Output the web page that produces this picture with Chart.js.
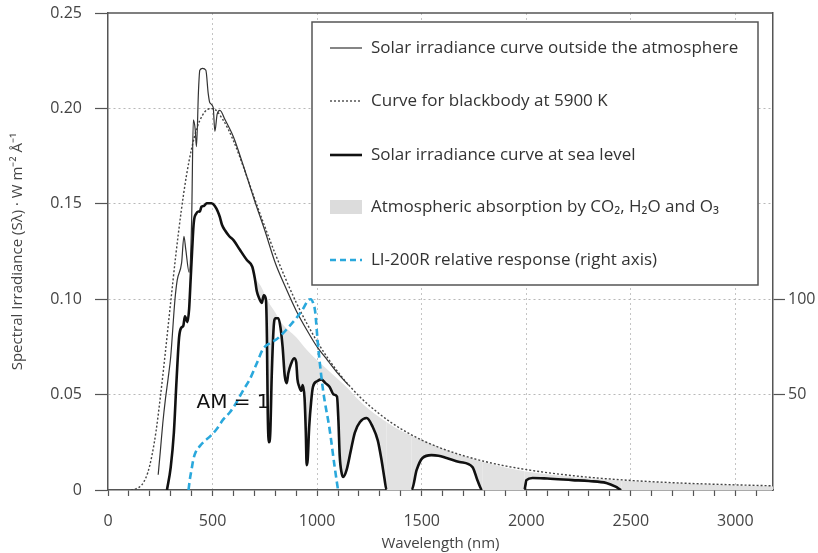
<!DOCTYPE html>
<html>
<head>
<meta charset="utf-8">
<script src="https://cdn.jsdelivr.net/npm/chart.js@4.4.1/dist/chart.umd.min.js"></script>
<style>
body { margin: 0; background: #fff; }
#wrap { width: 818px; height: 553px; }
</style>
</head>
<body>
<div id="wrap"><canvas id="chart" width="818" height="553"></canvas></div>
<script>
// all values: wavelength in nm, irradiance in W m-2 A-1, response in %

// blackbody at 5900 K (dotted)
var bbWave = [110, 130, 150, 170, 190, 210, 230, 250, 275, 300, 325, 350, 375, 400, 425, 450, 475, 500, 550, 600, 650, 700, 750, 800, 900, 1000, 1100, 1200, 1300, 1400, 1500, 1600, 1800, 2000, 2250, 2500, 2750, 3000, 3180];
var bbVal  = [0, 0.0005, 0.0015, 0.004, 0.009, 0.018, 0.031, 0.0484, 0.0729, 0.0987, 0.1238, 0.146, 0.1647, 0.179, 0.1896, 0.196, 0.1994, 0.1999, 0.194, 0.183, 0.1686, 0.153, 0.138, 0.1237, 0.0983, 0.0778, 0.0618, 0.0493, 0.0397, 0.0321, 0.0262, 0.0216, 0.015, 0.0107, 0.0072, 0.005, 0.0036, 0.0027, 0.0022];

// outside the atmosphere (thin line)
var etWave = [240, 250, 262, 275, 287, 300, 320, 331, 352, 363, 372, 388, 400, 408, 417, 423, 433, 439, 452, 468, 479, 487, 503, 511, 522, 535, 560, 600, 650, 700, 750, 800, 850, 900, 950, 1000, 1050, 1100, 1150];
var etVal  = [0.008, 0.02, 0.035, 0.048, 0.058, 0.07, 0.0996, 0.11, 0.119, 0.133, 0.126, 0.114, 0.1415, 0.194, 0.189, 0.18, 0.21, 0.22, 0.221, 0.22, 0.208, 0.203, 0.2005, 0.188, 0.197, 0.199, 0.194, 0.185, 0.169, 0.152, 0.136, 0.119, 0.106, 0.094, 0.084, 0.075, 0.068, 0.061, 0.055];

// sea level (thick line)
var slWave = [282, 300, 315, 328, 340, 350, 360, 368, 380, 388, 395, 402, 410, 423, 432, 439, 447, 460, 472, 495, 510, 525, 535, 545, 560, 580, 600, 630, 664, 690, 702, 712, 725, 735, 745, 755, 760, 764, 770, 776, 783, 792, 800, 815, 825, 835, 845, 855, 862, 875, 890, 900, 906, 915, 925, 931, 940, 946, 950, 955, 962, 972, 980, 1000, 1020, 1040, 1060, 1080, 1095, 1102, 1108, 1117, 1125, 1141, 1160, 1180, 1205, 1237, 1266, 1290, 1308, 1322, 1332, 1452, 1476, 1504, 1547, 1580, 1619, 1681, 1743, 1767, 1790, 1991, 2001, 2030, 2100, 2221, 2300, 2383, 2430, 2455, 3180];
var slVal  = [0, 0.012, 0.03, 0.058, 0.08, 0.085, 0.086, 0.091, 0.088, 0.095, 0.11, 0.125, 0.14, 0.145, 0.146, 0.1459, 0.1485, 0.149, 0.1503, 0.1503, 0.149, 0.146, 0.143, 0.139, 0.136, 0.133, 0.131, 0.126, 0.1205, 0.117, 0.111, 0.104, 0.1, 0.098, 0.102, 0.1, 0.08, 0.04, 0.025, 0.03, 0.06, 0.085, 0.09, 0.09, 0.085, 0.075, 0.06, 0.056, 0.061, 0.066, 0.069, 0.067, 0.058, 0.054, 0.052, 0.055, 0.048, 0.03, 0.013, 0.016, 0.033, 0.047, 0.054, 0.057, 0.058, 0.056, 0.054, 0.05, 0.049, 0.036, 0.018, 0.009, 0.0068, 0.0105, 0.02, 0.03, 0.0356, 0.0377, 0.033, 0.026, 0.0157, 0.006, 0, 0, 0.0105, 0.0168, 0.0183, 0.018, 0.0168, 0.0147, 0.012, 0.005, 0, 0, 0.0052, 0.0063, 0.006, 0.0052, 0.0047, 0.0037, 0.0016, 0, 0];

// top of the grey absorption area
var absWave = [702, 730, 760, 800, 830, 900, 950, 1000, 1050, 1100, 1150, 1200, 1250, 1300, 1400, 1500, 1600, 1700, 1800, 1900, 2000, 2200, 2400, 2600, 2800, 3000, 3180];
var absVal  = [0.111, 0.107, 0.1, 0.093, 0.0875, 0.08, 0.0735, 0.068, 0.063, 0.058, 0.053, 0.047, 0.042, 0.038, 0.031, 0.0262, 0.0218, 0.0178, 0.0145, 0.0118, 0.0097, 0.0071, 0.0054, 0.0041, 0.0032, 0.0024, 0.0019];

// LI-200R relative response, right axis
var liWave = [385, 392, 400, 408, 420, 439, 460, 487, 520, 551, 585, 615, 645, 678, 710, 742, 775, 806, 840, 869, 900, 933, 957, 970, 981, 990, 1005, 1028, 1060, 1084, 1100];
var liVal  = [0, 6, 11, 16, 20, 23, 25.5, 28, 32, 37, 41, 46, 52, 58, 66, 74, 77, 79, 82.5, 86, 90, 95, 99.5, 100, 98, 94, 75, 52.6, 31.6, 12, 0];

var xTicks = [0, 500, 1000, 1500, 2000, 2500, 3000];
var rightTicks = [50, 100];
var amLabel = {x: 423, y: 0.0429, text: "AM = 1"};

var legendLabels = [
	"Solar irradiance curve outside the atmosphere",
	"Curve for blackbody at 5900 K",
	"Solar irradiance curve at sea level",
	"Atmospheric absorption by CO\u2082, H\u2082O and O\u2083",
	"LI-200R relative response (right axis)"
];

var BLUE = "#2aa8dc";
var FONT = "'Open Sans', sans-serif";

function pts(xs, ys) {
	return xs.map((x, i) => ({x: x, y: ys[i]}));
}

// vertical scales: fixed width and no extra room above the plot
function fixWidth(w) {
	return s => { s.width = w; s.paddingTop = 0; s.paddingBottom = 0; };
}

// frame top, AM label and the boxed legend
var extras = {
	id: "extras",
	afterDatasetsDraw(chart) {
		var ctx = chart.ctx, a = chart.chartArea;
		var xs = chart.scales.x, ys = chart.scales.y;
		ctx.save();
		ctx.strokeStyle = "#555";
		ctx.lineWidth = 1.5;
		ctx.beginPath();
		ctx.moveTo(a.left, a.top);
		ctx.lineTo(a.right, a.top);
		ctx.stroke();

		ctx.fillStyle = "#111";
		ctx.font = "20px 'DejaVu Sans'";
		ctx.textBaseline = "alphabetic";
		ctx.fillText(amLabel.text, xs.getPixelForValue(amLabel.x), ys.getPixelForValue(amLabel.y));

		// legend box
		var bx = 312, by = 22, bw = 446, bh = 263;
		ctx.fillStyle = "#fff";
		ctx.fillRect(bx, by, bw, bh);
		ctx.strokeStyle = "#555";
		ctx.lineWidth = 1.5;
		ctx.strokeRect(bx, by, bw, bh);

		var rows = [48, 101, 155, 207, 260];
		var sx0 = 330, sx1 = 362;
		function seg(y, w, col, dash) {
			ctx.beginPath();
			ctx.setLineDash(dash);
			ctx.lineWidth = w;
			ctx.strokeStyle = col;
			ctx.moveTo(sx0, y);
			ctx.lineTo(sx1, y);
			ctx.stroke();
			ctx.setLineDash([]);
		}
		seg(rows[0], 1.2, "#333", []);
		seg(rows[1], 1.3, "#555", [2, 2]);
		seg(rows[2], 2.6, "#111", []);
		ctx.fillStyle = "#dcdcdc";
		ctx.fillRect(sx0, rows[3] - 7, sx1 - sx0, 14);
		seg(rows[4], 2.6, BLUE, [6, 4]);

		ctx.fillStyle = "#333";
		ctx.font = "17px " + FONT;
		ctx.textBaseline = "middle";
		legendLabels.forEach((t, i) => ctx.fillText(t, 371, rows[i]));
		ctx.restore();
	}
};

var ds = [
	{ // 0 - drawn last
		label: "LI-200R", data: pts(liWave, liVal), yAxisID: "y1",
		borderColor: BLUE, borderWidth: 2.6, borderDash: [7, 4], fill: false
	},
	{ // 1
		label: "sea level", data: pts(slWave, slVal), yAxisID: "y",
		borderColor: "#111", borderWidth: 2.6, fill: false,
		segment: {
			borderColor: c => (c.p0.parsed.y === 0 && c.p1.parsed.y === 0) ? "rgba(0,0,0,0)" : "#111"
		}
	},
	{ // 2
		label: "outside", data: pts(etWave, etVal), yAxisID: "y",
		borderColor: "#333", borderWidth: 1.2, fill: false
	},
	{ // 3
		label: "blackbody", data: pts(bbWave, bbVal), yAxisID: "y",
		borderColor: "#444", borderWidth: 1.4, borderDash: [2, 2], fill: false
	},
	{ // 4 - grey absorption area down to the sea level curve
		label: "absorption", data: pts(absWave, absVal), yAxisID: "y",
		borderColor: "rgba(0,0,0,0)", borderWidth: 0,
		backgroundColor: "#e2e2e2",
		fill: {target: 1, above: "#e2e2e2", below: "#e2e2e2"}
	}
];

var ctx = document.getElementById("chart").getContext("2d");
new Chart(ctx, {
	type: "line",
	data: {datasets: ds},
	plugins: [extras],
	options: {
		responsive: false,
		animation: false,
		devicePixelRatio: 1,
		layout: {padding: {top: 13, left: 0, right: 0, bottom: 0}},
		elements: {
			point: {radius: 0},
			line: {cubicInterpolationMode: "monotone"}
		},
		plugins: {
			legend: {display: false},
			tooltip: {enabled: false},
			filler: {drawTime: "beforeDatasetsDraw"}
		},
		scales: {
			x: {
				type: "linear", min: 0, max: 3180,
				afterFit: s => { s.height = 63; },
				border: {color: "#555", width: 1.5, dash: [2, 3]},
				grid: {
					color: c => (c.tick && c.tick.value > 0 && xTicks.includes(c.tick.value)) ? "#c4c4c4" : "rgba(0,0,0,0)",
					tickColor: "#555", tickLength: 6, tickWidth: 1.2
				},
				ticks: {
					stepSize: 100, includeBounds: false, autoSkip: false, maxRotation: 0,
					padding: 16, color: "#444", font: {family: FONT, size: 16},
					callback: v => xTicks.includes(v) ? String(v) : ""
				},
				title: {
					display: true, text: "Wavelength (nm)", color: "#444",
					font: {family: FONT, size: 15}, padding: {top: 0, bottom: 0}
				}
			},
			y: {
				position: "left", min: 0, max: 0.25,
				afterFit: fixWidth(108),
				border: {color: "#555", width: 1.5, dash: [2, 3]},
				grid: {
					color: c => (c.tick && c.tick.value > 0.001 && c.tick.value < 0.249) ? "#b8b8b8" : "rgba(0,0,0,0)",
					tickColor: "#555", tickLength: 13, tickWidth: 1.2
				},
				ticks: {
					stepSize: 0.05, padding: 13, color: "#444", font: {family: FONT, size: 16},
					callback: v => v === 0 ? "0" : v.toFixed(2)
				},
				title: {
					display: true, text: "Spectral Irradiance (S\u03bb) \u00b7 W m\u207b\u00b2 \u00c5\u207b\u00b9",
					color: "#444", font: {family: FONT, size: 15}, padding: {top: 9, bottom: 0}
				}
			},
			y1: {
				position: "right", min: 0, max: 250,
				afterFit: fixWidth(45),
				border: {color: "#555", width: 1.5},
				grid: {drawOnChartArea: false, tickColor: "#555", tickLength: 12, tickWidth: 1.2},
				ticks: {
					stepSize: 50, padding: 3, color: "#444", font: {family: FONT, size: 16},
					callback: v => rightTicks.includes(v) ? String(v) : null
				}
			}
		}
	}
});
</script>
</body>
</html>
